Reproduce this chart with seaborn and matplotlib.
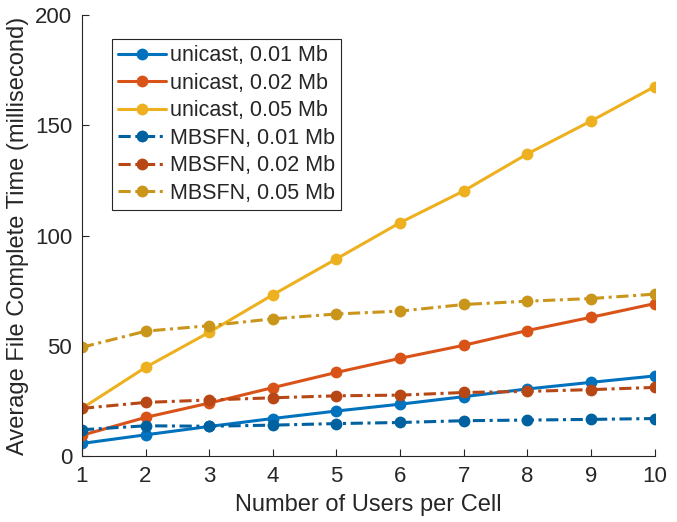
import matplotlib
matplotlib.use("Agg")
import matplotlib.pyplot as plt
import seaborn as sns
import pandas as pd

users = [1, 2, 3, 4, 5, 6, 7, 8, 9, 10]
unicast_001 = [5.8, 9.7, 13.5, 17.1, 20.5, 23.6, 27.0, 30.5, 33.5, 36.4]
unicast_002 = [9.5, 17.6, 24.1, 31.1, 38.0, 44.4, 50.3, 57.0, 63.0, 69.2]
unicast_005 = [21.7, 40.3, 56.2, 73.2, 89.5, 105.9, 120.3, 137.1, 152.0, 167.6]
mbsfn_001 = [12.0, 13.8, 13.6, 14.1, 14.8, 15.3, 16.1, 16.4, 16.7, 17.1]
mbsfn_002 = [21.7, 24.4, 25.5, 26.5, 27.4, 27.7, 28.9, 29.4, 30.2, 31.2]
mbsfn_005 = [49.4, 56.7, 59.2, 62.3, 64.5, 65.8, 68.8, 70.3, 71.5, 73.5]

labels = ["unicast, 0.01 Mb", "unicast, 0.02 Mb", "unicast, 0.05 Mb",
          "MBSFN, 0.01 Mb", "MBSFN, 0.02 Mb", "MBSFN, 0.05 Mb"]
series = [unicast_001, unicast_002, unicast_005, mbsfn_001, mbsfn_002, mbsfn_005]
colors = ["#0072BD", "#D95319", "#EDB120", "#0061A1", "#B84716", "#C9961B"]
dashdot = (0, (4, 1.5, 1, 1.5))
styles = ["-", "-", "-", dashdot, dashdot, dashdot]

rows = []
for lab, vals in zip(labels, series):
    for u, v in zip(users, vals):
        rows.append({"users": u, "time": v, "series": lab})
df = pd.DataFrame(rows)

sns.set_style("ticks")
plt.rcParams['font.family'] = ['Liberation Sans', 'DejaVu Sans']

fig = plt.figure(figsize=(6.77, 5.22), dpi=100)
ax = fig.add_axes([0.121, 0.126, 0.846, 0.845])

for lab, col, ls in zip(labels, colors, styles):
    sub = df[df["series"] == lab]
    sns.lineplot(data=sub, x="users", y="time", ax=ax, color=col, linestyle=ls,
                 linewidth=2.2, marker="o", markersize=8.5, markeredgewidth=0,
                 label=lab, dashes=False)

ax.set_xlim(1, 10)
ax.set_ylim(0, 200)
ax.set_xticks(users)
ax.set_yticks([0, 50, 100, 150, 200])
ax.tick_params(direction="in", length=5, width=0.8, colors="#262626", labelsize=16, pad=7)
for s in ["top", "right"]:
    ax.spines[s].set_visible(False)
for s in ["left", "bottom"]:
    ax.spines[s].set_color("#262626")
    ax.spines[s].set_linewidth(0.8)

ax.set_xlabel("Number of Users per Cell", fontsize=17, color="#262626", labelpad=5)
ax.set_ylabel("Average File Complete Time (millisecond)", fontsize=17, color="#262626", labelpad=4)

leg = ax.legend(loc="upper left", bbox_to_anchor=(0.052, 0.946), fontsize=15.5,
                frameon=True, fancybox=False, edgecolor="#262626", framealpha=1,
                handlelength=2.2, handletextpad=0.2, borderpad=0.3, labelspacing=0.3,
                borderaxespad=0)
leg.get_frame().set_linewidth(0.8)

fig.savefig("out.png", dpi=100)
